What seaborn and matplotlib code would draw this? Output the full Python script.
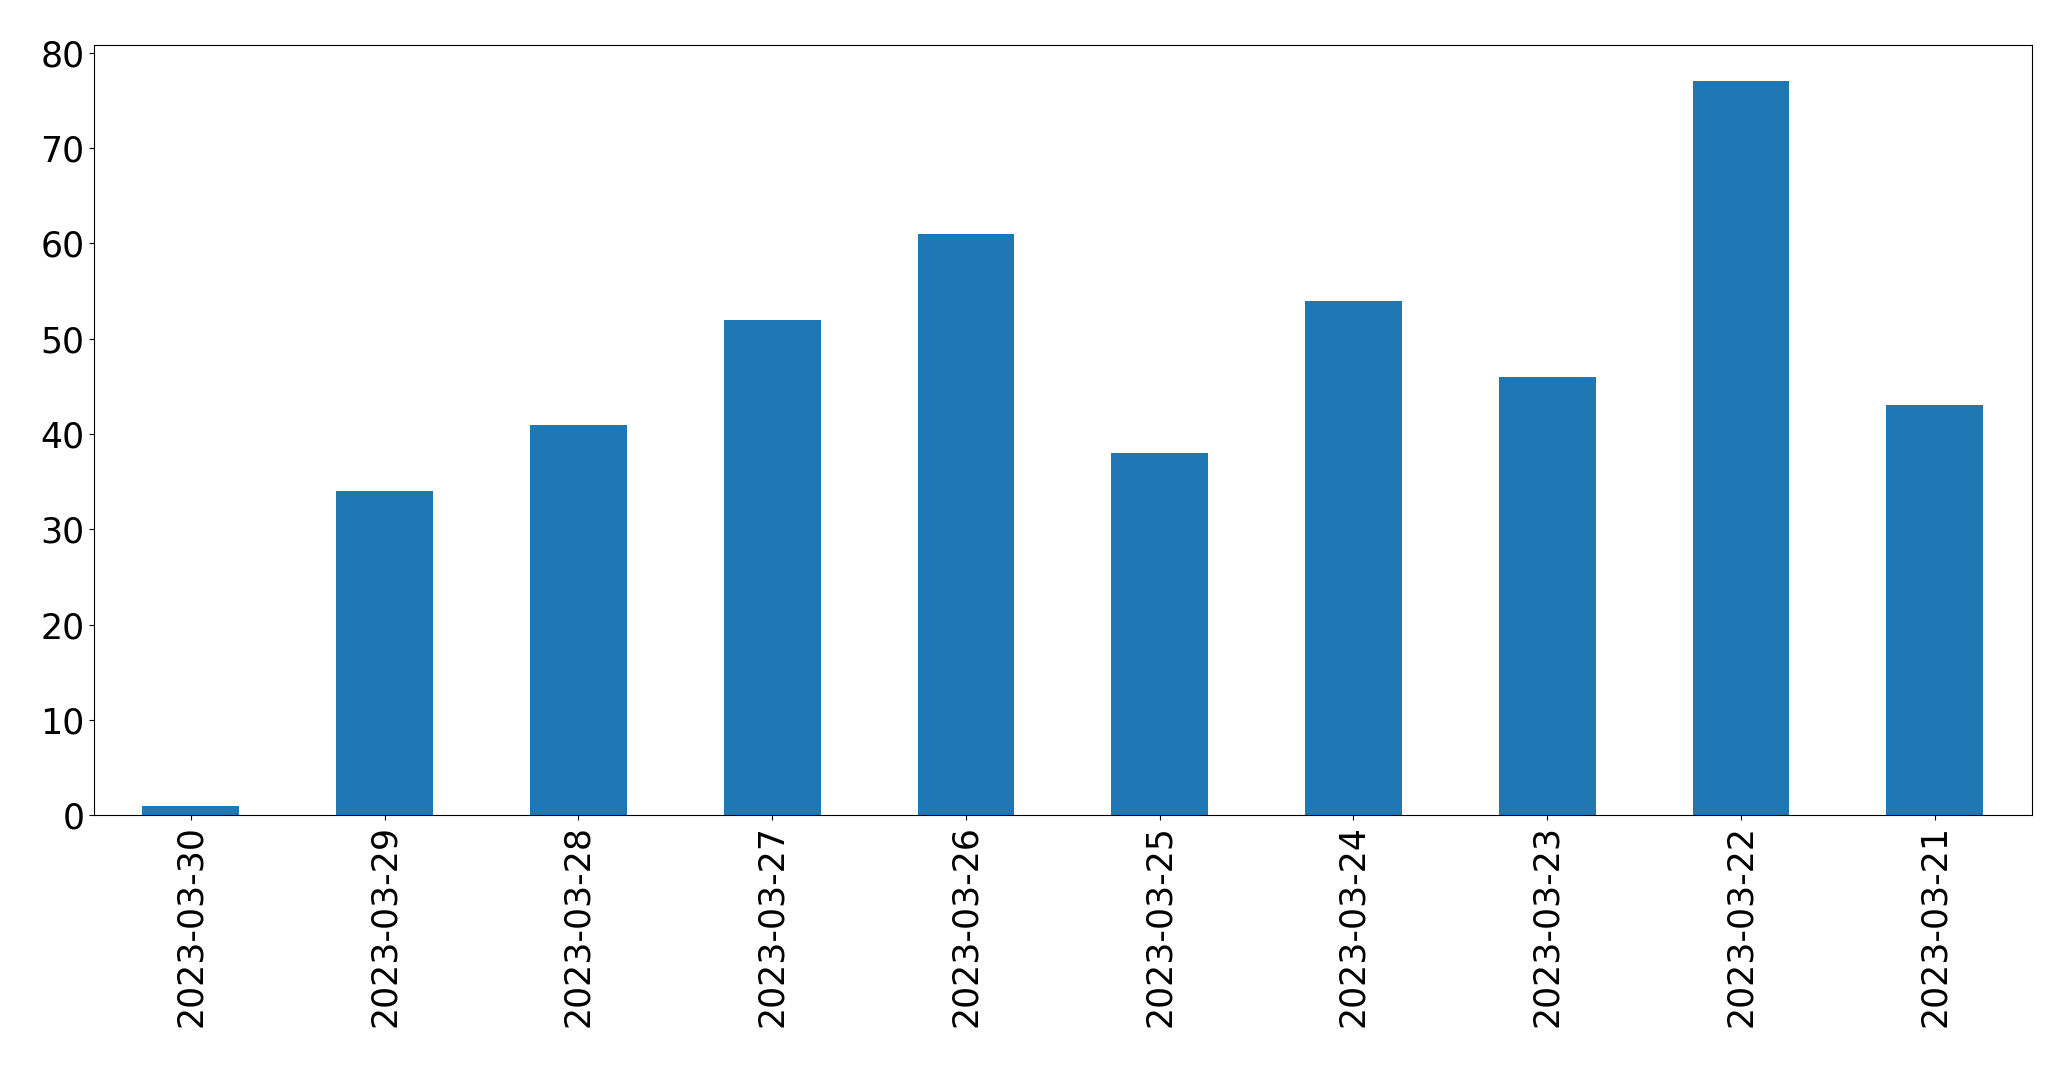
import matplotlib
matplotlib.use("Agg")
import matplotlib.pyplot as plt
import pandas as pd
import seaborn as sns

dates = ["2023-03-30", "2023-03-29", "2023-03-28", "2023-03-27", "2023-03-26",
         "2023-03-25", "2023-03-24", "2023-03-23", "2023-03-22", "2023-03-21"]
counts = [1, 34, 41, 52, 61, 38, 54, 46, 77, 43]

df = pd.DataFrame({"date": dates, "count": counts})

fig, ax = plt.subplots(figsize=(20.71, 10.67), dpi=100)
plt.subplots_adjust(left=0.0454, right=0.981, top=0.958, bottom=0.236)

sns.barplot(data=df, x="date", y="count", order=dates, color="#1f77b4",
            saturation=1, width=0.5, linewidth=0, ax=ax)
ax.set_xlim(-0.5, len(dates) - 0.5)
ax.set_ylim(0, max(counts) * 1.05)
ax.set_xlabel("")
ax.set_ylabel("")
for spine in ax.spines.values():
    spine.set_color("black")
ax.tick_params(axis="both", labelsize=25)
plt.setp(ax.get_xticklabels(), rotation=90)

plt.savefig("out.png", dpi=100)
plt.close(fig)
